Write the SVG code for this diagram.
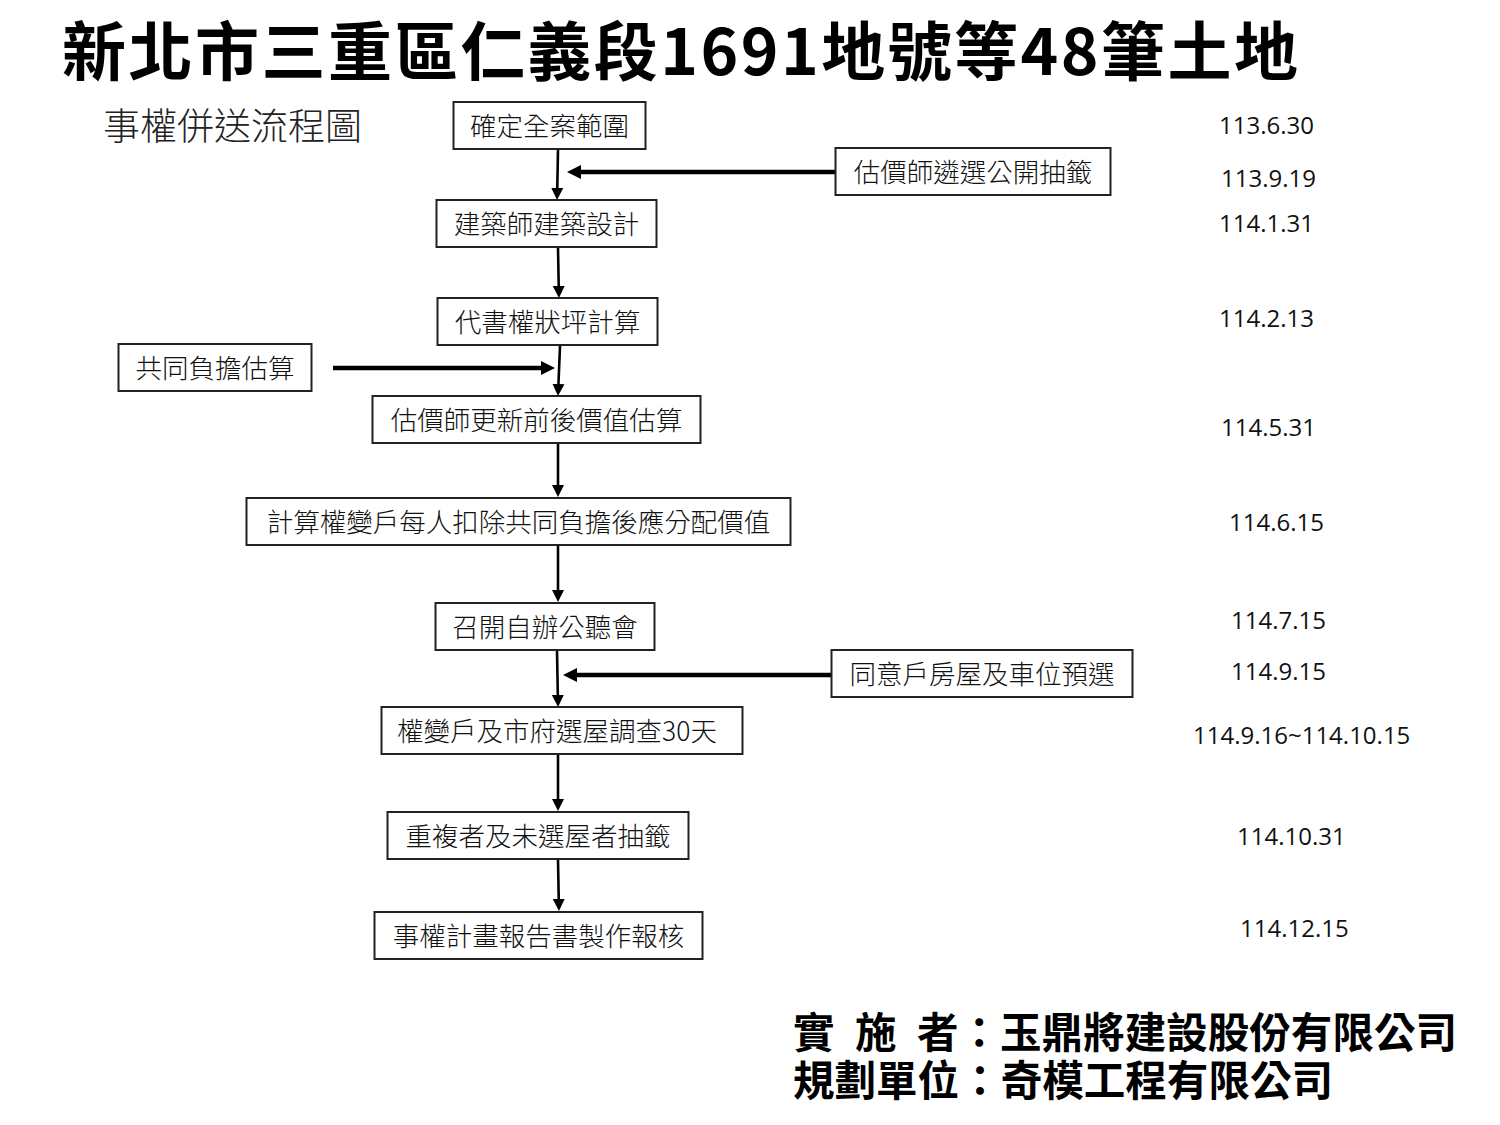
<svg xmlns="http://www.w3.org/2000/svg" width="1500" height="1125" viewBox="0 0 1500 1125">
<defs>
<style>
.box rect{fill:#fff;stroke:#222;stroke-width:2}
.box text{font-family:"Noto Sans CJK TC","Noto Sans CJK SC",sans-serif;font-size:26.5px;font-weight:300;fill:#111;text-anchor:middle}
.v{stroke:#000;stroke-width:2.6;fill:none}
.h{stroke:#000;stroke-width:4.5;fill:none}
.date{font-family:"Open Sans","Noto Sans",sans-serif;font-size:24px;fill:#111}
.title{font-family:"Noto Sans CJK TC","Noto Sans CJK SC",sans-serif;font-weight:bold;fill:#000}
</style>
<marker id="av" markerUnits="userSpaceOnUse" markerWidth="14" markerHeight="14" refX="4" refY="6" orient="auto" viewBox="0 0 14 12">
<path d="M0,0 L12,6 L0,12 z" fill="#000"/>
</marker>
<marker id="ah" markerUnits="userSpaceOnUse" markerWidth="16" markerHeight="16" refX="4" refY="7" orient="auto" viewBox="0 0 16 14">
<path d="M0,0 L14,7 L0,14 z" fill="#000"/>
</marker>
</defs>
<rect width="1500" height="1125" fill="#fff"/>

<text class="title" x="62" y="75" font-size="64" textLength="1236" lengthAdjust="spacing">新北市三重區仁義段1691地號等48筆土地</text>
<text x="103" y="140" font-family="Noto Sans CJK TC,Noto Sans CJK SC,sans-serif" font-size="37" font-weight="300" fill="#222">事權併送流程圖</text>

<g id="connectors">
<line class="v" x1="558" y1="150" x2="557.2" y2="192" marker-end="url(#av)"/>
<line class="h" x1="835" y1="172" x2="577" y2="172" marker-end="url(#ah)"/>
<line class="v" x1="558" y1="248" x2="558.8" y2="290" marker-end="url(#av)"/>
<line class="v" x1="560" y1="346" x2="558.3" y2="388" marker-end="url(#av)"/>
<line class="h" x1="333" y1="368" x2="545" y2="368" marker-end="url(#ah)"/>
<line class="v" x1="558" y1="444" x2="558" y2="489" marker-end="url(#av)"/>
<line class="v" x1="558" y1="546" x2="558" y2="594" marker-end="url(#av)"/>
<line class="v" x1="557" y1="651" x2="557.9" y2="699" marker-end="url(#av)"/>
<line class="h" x1="831" y1="675" x2="573" y2="675" marker-end="url(#ah)"/>
<line class="v" x1="558" y1="755" x2="558" y2="803" marker-end="url(#av)"/>
<line class="v" x1="558" y1="860" x2="558.8" y2="903" marker-end="url(#av)"/>
</g>

<g id="n1" class="box"><rect x="453.5" y="102" width="192" height="47"/><text x="549.5" y="135.5">確定全案範圍</text></g>
<g id="n2" class="box"><rect x="835.5" y="148" width="275" height="47"/><text x="973" y="181.5">估價師遴選公開抽籤</text></g>
<g id="n3" class="box"><rect x="436.5" y="200" width="220" height="47"/><text x="546.5" y="233.5">建築師建築設計</text></g>
<g id="n4" class="box"><rect x="437.5" y="298" width="220" height="47"/><text x="547.5" y="331.5">代書權狀坪計算</text></g>
<g id="n5" class="box"><rect x="118.5" y="344" width="193" height="47"/><text x="215" y="377.5">共同負擔估算</text></g>
<g id="n6" class="box"><rect x="372.5" y="396" width="328" height="47"/><text x="536.5" y="429.5">估價師更新前後價值估算</text></g>
<g id="n7" class="box"><rect x="246.5" y="498" width="544" height="47"/><text x="518.5" y="531.5">計算權變戶每人扣除共同負擔後應分配價值</text></g>
<g id="n8" class="box"><rect x="435.5" y="603" width="219" height="47"/><text x="545" y="636.5">召開自辦公聽會</text></g>
<g id="n9" class="box"><rect x="831.5" y="650" width="301" height="47"/><text x="982" y="683.5">同意戶房屋及車位預選</text></g>
<g id="n10" class="box"><rect x="381.5" y="707" width="361" height="47"/><text x="557" y="740.5">權變戶及市府選屋調查30天</text></g>
<g id="n11" class="box"><rect x="387.5" y="812" width="301" height="47"/><text x="538" y="845.5">重複者及未選屋者抽籤</text></g>
<g id="n12" class="box"><rect x="374.5" y="912" width="328" height="47"/><text x="538.5" y="945.5">事權計畫報告書製作報核</text></g>

<g id="dates">
<text class="date" x="1219" y="134">113.6.30</text>
<text class="date" x="1221" y="187">113.9.19</text>
<text class="date" x="1219" y="232">114.1.31</text>
<text class="date" x="1219" y="327">114.2.13</text>
<text class="date" x="1221" y="436">114.5.31</text>
<text class="date" x="1229" y="531">114.6.15</text>
<text class="date" x="1231" y="629">114.7.15</text>
<text class="date" x="1231" y="680">114.9.15</text>
<text class="date" x="1193" y="744">114.9.16~114.10.15</text>
<text class="date" x="1237" y="845">114.10.31</text>
<text class="date" x="1240" y="937">114.12.15</text>
</g>

<g id="footer" class="title" font-size="41.5">
<text x="793" y="1048">實</text>
<text x="855" y="1048">施</text>
<text x="917" y="1048">者</text>
<text x="958.5" y="1048" textLength="498.5" lengthAdjust="spacing">：玉鼎將建設股份有限公司</text>
<text x="793" y="1096" textLength="540" lengthAdjust="spacing">規劃單位：奇模工程有限公司</text>
</g>
</svg>
